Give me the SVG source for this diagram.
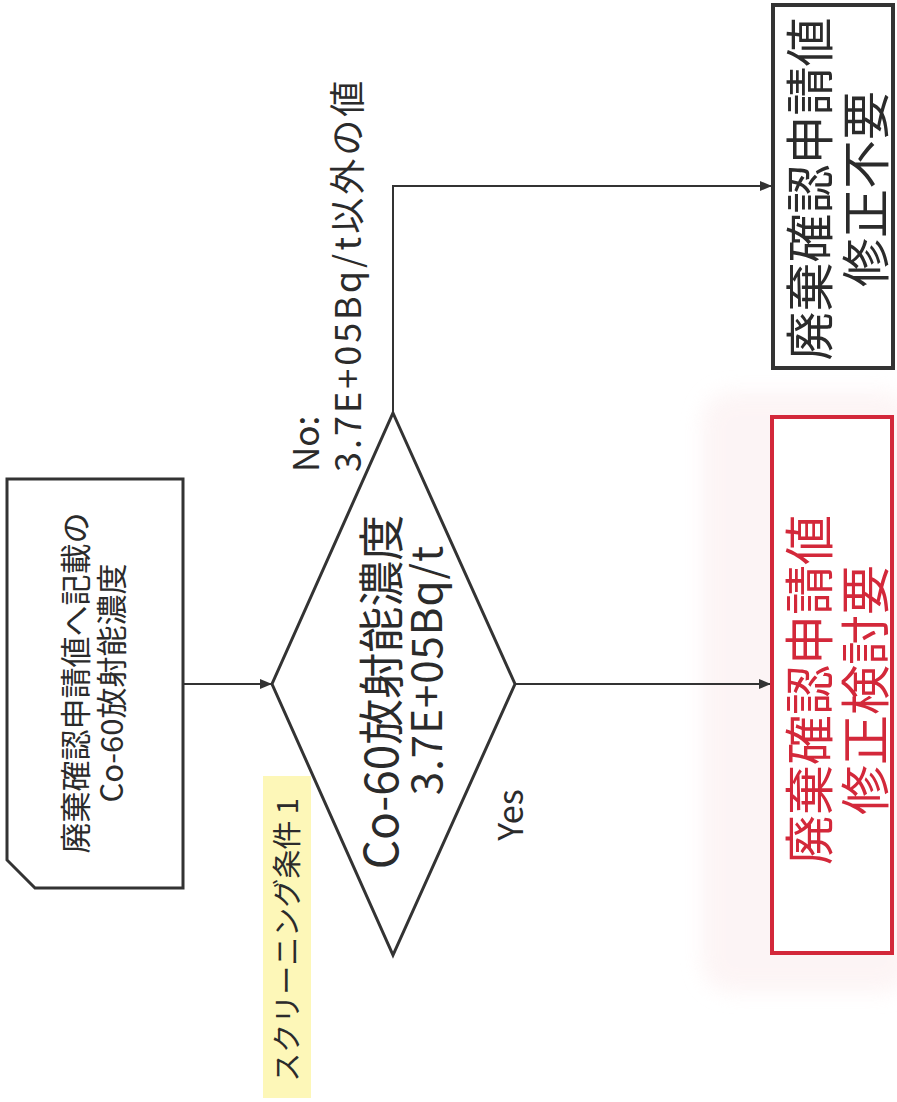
<svg xmlns="http://www.w3.org/2000/svg" width="897" height="1102" viewBox="0 0 897 1102">
  <style>
    .t { font-family: "Noto Sans CJK JP", "Noto Sans", sans-serif; fill: #2b2b2b; dominant-baseline: central; }
    .red { fill: #d3283a; }
    .node { fill: #ffffff; stroke: #333333; stroke-width: 3; stroke-linejoin: miter; }
    .conn { fill: none; stroke: #333333; stroke-width: 2; }
  </style>
  <defs>
    <marker id="arr" viewBox="0 0 12 10" refX="12" refY="5" markerWidth="12" markerHeight="10" markerUnits="userSpaceOnUse" orient="auto">
      <path d="M0,0 L12,5 L0,10 Z" fill="#333333"/>
    </marker>
    <filter id="blur" x="-20%" y="-20%" width="140%" height="140%">
      <feGaussianBlur stdDeviation="10"/>
    </filter>
  </defs>
  <rect width="897" height="1102" fill="#ffffff"/>
  <rect x="702" y="392" width="210" height="600" rx="30" fill="#fbeced" opacity="0.55" filter="url(#blur)"/>

  <g id="connectors">
    <line class="conn" x1="183" y1="684" x2="272" y2="684" marker-end="url(#arr)"/>
    <polyline class="conn" points="393,413 393,186 772,186" marker-end="url(#arr)"/>
    <line class="conn" x1="515" y1="684" x2="771" y2="684" marker-end="url(#arr)"/>
  </g>

  <g id="input">
    <polygon class="node" points="7,479 183,479 183,888 35,888 7,860"/>
    <text class="t" font-size="31" text-anchor="middle" transform="translate(73,683) rotate(-90)">廃棄確認申請値へ記載の</text>
    <text class="t" font-size="31" text-anchor="middle" transform="translate(109,683) rotate(-90)">Co-60放射能濃度</text>
  </g>

  <g id="screening-label">
    <rect x="263" y="776" width="48" height="322" fill="#fdf7b8"/>
    <text class="t" font-size="29" text-anchor="middle" transform="translate(285,940) rotate(-90)">スクリーニング条件 1</text>
  </g>

  <g id="decision">
    <polygon class="node" points="393,413 515,684 393,955 272,684"/>
    <text class="t" font-size="46" text-anchor="middle" transform="translate(378,692) rotate(-90)">Co-60放射能濃度</text>
    <text class="t" font-size="42" text-anchor="middle" letter-spacing="1" transform="translate(423,670) rotate(-90)">3.7E+05Bq/t</text>
  </g>

  <g id="label-no">
    <text class="t" font-size="35" text-anchor="start" transform="translate(303,472) rotate(-90)">No:</text>
    <text class="t" font-size="36" text-anchor="start" letter-spacing="3" transform="translate(345,472) rotate(-90)">3.7E+05Bq/t以外の値</text>
  </g>

  <g id="label-yes">
    <text class="t" font-size="34" text-anchor="middle" transform="translate(508,815) rotate(-90)">Yes</text>
  </g>

  <g id="result-no-change">
    <rect x="773" y="5" width="120" height="363" fill="#ffffff" stroke="#333333" stroke-width="4"/>
    <text class="t" font-size="49" text-anchor="middle" transform="translate(806,189) rotate(-90)">廃棄確認申請値</text>
    <text class="t" font-size="49" text-anchor="middle" transform="translate(862,189) rotate(-90)">修正不要</text>
  </g>

  <g id="result-review">
    <rect x="772" y="417" width="120" height="536" fill="#ffffff" stroke="#d3283a" stroke-width="4"/>
    <text class="t red" font-size="50" text-anchor="middle" transform="translate(806,690) rotate(-90)">廃棄確認申請値</text>
    <text class="t red" font-size="50" text-anchor="middle" transform="translate(862,690) rotate(-90)">修正検討要</text>
  </g>
</svg>
